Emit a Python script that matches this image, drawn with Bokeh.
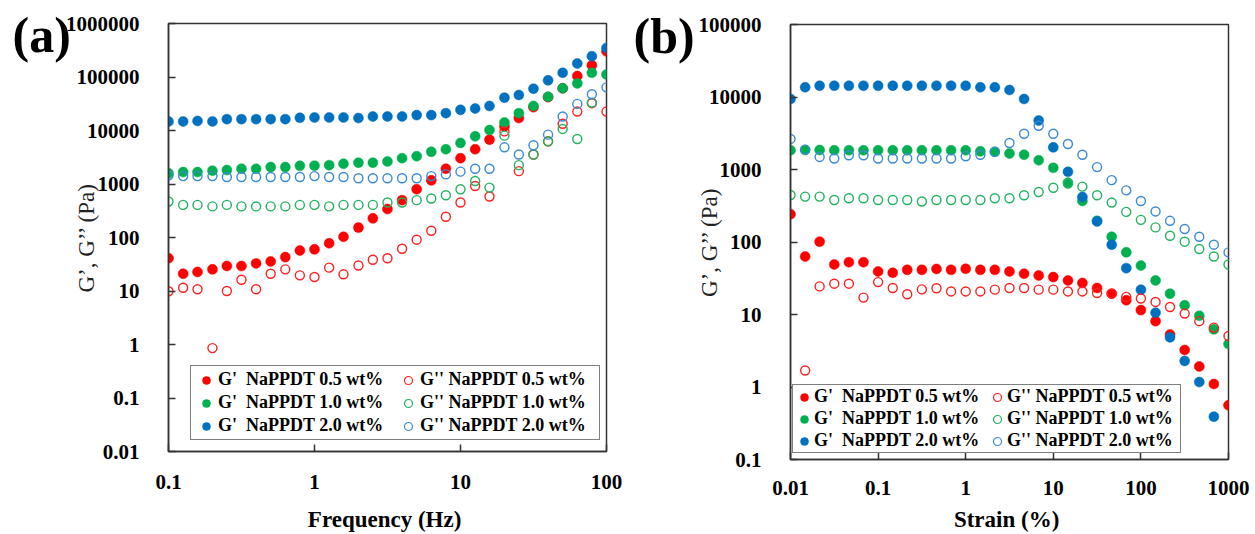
from bokeh.plotting import figure
from bokeh.models import (FixedTicker, CustomJSTickFormatter, Legend, LegendItem,
                          Range1d, Title)
from bokeh.layouts import row
from bokeh.embed import file_html
from bokeh.resources import INLINE

# ---------------- data: panel (a) frequency sweep ----------------
freq = [0.1, 0.126, 0.158, 0.2, 0.251, 0.316, 0.398, 0.501, 0.631, 0.794,
        1, 1.26, 1.58, 2, 2.51, 3.16, 3.98, 5.01, 6.31, 7.94,
        10, 12.6, 15.8, 20, 25.1, 31.6, 39.8, 50.1, 63.1, 79.4, 100]

a_gp_05 = [41, 21, 22.7, 25.4, 29.3, 29.3, 32.8, 35.7, 43, 57,
           60, 78, 103, 153, 228, 340, 499, 798, 1170, 1930,
           3040, 4460, 6750, 11900, 17060, 27300, 42000, 61400, 104000, 166000, 302000]
a_gpp_05 = [9.9, 11.5, 10.8, 0.857, 10, 16.2, 10.8, 21, 25.4, 19.6,
            18.3, 27.3, 20.5, 30, 38.4, 41, 61.5, 91, 134, 244,
            452, 919, 583, 9620, 1740, 3560, 6280, 13400, 22600, 32400, 22600]
a_gp_10 = [1580, 1670, 1670, 1770, 1820, 1930, 1930, 2070, 2070, 2190,
           2200, 2250, 2390, 2500, 2500, 2640, 3040, 3310, 3990, 4460,
           5860, 7780, 10200, 14100, 21100, 28800, 42900, 61400, 76000, 119700, 111600]
a_gpp_10 = [471, 407, 407, 381, 407, 381, 381, 381, 381, 407,
            407, 381, 407, 407, 407, 452, 452, 499, 535, 617,
            798, 1140, 857, 8020, 2250, 3560, 6280, 10700, 6950, 33200, float("nan")]
a_gp_20 = [14750, 14750, 15100, 14750, 16300, 16300, 16300, 16300, 16300, 17300,
           17500, 17500, 17500, 17060, 18270, 18270, 18270, 19400, 19400, 21100,
           24300, 25700, 28800, 41100, 46100, 60400, 86500, 119700, 178700, 244000, 348000]
a_gpp_20 = [1450, 1405, 1405, 1405, 1350, 1350, 1350, 1350, 1350, 1350,
            1405, 1350, 1350, 1280, 1280, 1280, 1280, 1280, 1405, 1510,
            1700, 1930, 1930, 4850, 3560, 5300, 8360, 18270, 31400, 47500, 64100]

# ---------------- data: panel (b) strain sweep ----------------
strain = [0.01, 0.0147, 0.0215, 0.0316, 0.0464, 0.0681, 0.1, 0.147, 0.215, 0.316,
          0.464, 0.681, 1, 1.47, 2.15, 3.16, 4.64, 6.81, 10, 14.7,
          21.5, 31.6, 46.4, 68.1, 100, 147, 215, 316, 464, 681, 1000]

b_gp_05 = [242, 63, 101, 48.9, 52.7, 52.7, 39.2, 37.6, 41.3, 41.3,
           42.5, 41.3, 42.7, 41.3, 41.3, 39.2, 36.5, 34.5, 32.8, 29.5,
           27.2, 23.2, 19.4, 15.7, 11.5, 8.1, 5.3, 3.24, 1.92, 1.1, 0.56]
b_gpp_05 = [float("nan"), 1.69, 24.4, 26.6, 26.6, 17.1, 28, 23.2, 19, 22.2,
            23, 20.8, 20.8, 20.8, 22, 23.2, 23.2, 22, 22, 20.8,
            20.8, 19.8, 19.4, 17.5, 16.6, 14.9, 12.7, 10.3, 8.1, 6.6, 5.05]
b_gp_10 = [1840, 1860, 1860, 1840, 1840, 1840, 1840, 1840, 1840, 1840,
           1840, 1840, 1840, 1780, 1760, 1660, 1600, 1340, 1055, 658,
           368, 196, 118, 72, 47.3, 29.5, 19.4, 13.4, 9.6, 6.24, 3.92]
b_gpp_10 = [445, 423, 423, 379, 401, 401, 379, 379, 379, 362,
            379, 379, 379, 379, 401, 401, 441, 489, 561, 640,
            580, 441, 350, 260, 202, 159, 122, 101, 80, 63, 48.9]
b_gp_20 = [9400, 13600, 14300, 14300, 14300, 14300, 14300, 14300, 14300, 14300,
           14300, 14300, 14300, 13600, 13600, 12500, 9400, 4730, 2020, 929,
           418, 192, 91.8, 43.6, 22, 10.6, 4.84, 2.29, 1.17, 0.39, float("nan")]
b_gpp_20 = [2640, 1880, 1490, 1420, 1570, 1570, 1420, 1420, 1420, 1420,
            1420, 1420, 1520, 1600, 1750, 2320, 3110, 4010, 3110, 2250,
            1600, 1080, 713, 515, 368, 264, 196, 151, 118, 91.8, 72]

labels_gp = ["G'  NaPPDT 0.5 wt%", "G'  NaPPDT 1.0 wt%", "G'  NaPPDT 2.0 wt%"]
labels_gpp = ["G'' NaPPDT 0.5 wt%", "G'' NaPPDT 1.0 wt%", "G'' NaPPDT 2.0 wt%"]

a_xticks = [0.1, 1, 10, 100]
a_yticks = [0.01, 0.1, 1, 10, 100, 1000, 10000, 100000, 1000000]
b_xticks = [0.01, 0.1, 1, 10, 100, 1000]
b_yticks = [0.1, 1, 10, 100, 1000, 10000, 100000]

FILL = ["#FF0000", "#00B050", "#0070C0"]
OPEN = ["#FF2020", "#22B35E", "#3A8AD6"]
FONT = "Liberation Serif"
AX = "#333333"
NAN = float("nan")

fmt_js = """
const e = Math.round(Math.log10(tick));
if (e >= 0) { return "1" + "0".repeat(e); }
return "0." + "0".repeat(-e - 1) + "1";
"""


def make_panel(x, series_fill, series_open, xticks, yticks, xlabel, tag,
               width, height, bl, br, bt, bb, xtick_standoff, ylab_standoff,
               xlab_standoff, leg_loc, leg_pad, leg_spacing, leg_lw, leg_gw,
               tag_offset):
    p = figure(width=width, height=height, x_axis_type="log", y_axis_type="log",
               x_range=Range1d(xticks[0], xticks[-1]),
               y_range=Range1d(yticks[0], yticks[-1]),
               output_backend="svg", toolbar_location=None,
               min_border_left=bl, min_border_right=br,
               min_border_top=bt, min_border_bottom=bb)
    p.frame_align = False
    p.xgrid.visible = False
    p.ygrid.visible = False
    p.outline_line_color = AX
    p.outline_line_width = 1.5
    p.background_fill_color = "white"
    p.border_fill_color = "white"

    p.xaxis.ticker = FixedTicker(ticks=xticks, minor_ticks=[])
    p.yaxis.ticker = FixedTicker(ticks=yticks, minor_ticks=[])
    for ax in (p.xaxis[0], p.yaxis[0]):
        ax.formatter = CustomJSTickFormatter(code=fmt_js)
        ax.major_tick_in = 7
        ax.major_tick_out = 0
        ax.minor_tick_line_color = None
        ax.axis_line_color = AX
        ax.axis_line_width = 1.5
        ax.major_tick_line_color = AX
        ax.major_tick_line_width = 1.5
        ax.major_label_text_font = FONT
        ax.major_label_text_font_style = "bold"
        ax.major_label_text_font_size = "21px"
        ax.major_label_text_color = "black"
    p.yaxis[0].major_label_standoff = 29
    p.xaxis[0].major_label_standoff = xtick_standoff

    p.xaxis[0].axis_label = xlabel
    p.xaxis[0].axis_label_text_font = FONT
    p.xaxis[0].axis_label_text_font_style = "bold"
    p.xaxis[0].axis_label_text_font_size = "23px"
    p.xaxis[0].axis_label_text_color = "black"
    p.xaxis[0].axis_label_standoff = xlab_standoff

    p.yaxis[0].axis_label = "G\u2019, G\u2019\u2019 (Pa)"
    p.yaxis[0].axis_label_text_font = FONT
    p.yaxis[0].axis_label_text_font_style = "normal"
    p.yaxis[0].axis_label_text_font_size = "23px"
    p.yaxis[0].axis_label_text_color = "#222222"
    p.yaxis[0].axis_label_standoff = ylab_standoff

    for ys, c in zip(series_fill, FILL):
        p.scatter(x, ys, marker="circle", size=10, fill_color=c,
                  line_color=c, line_width=0.5)
    for ys, c in zip(series_open, OPEN):
        p.scatter(x, ys, marker="circle", size=9, fill_color=None,
                  line_color=c, line_width=1.4)

    # smaller key markers for the legend (a single NaN point: never drawn in the plot)
    items = []
    for c, lab in zip(FILL, labels_gp):
        r = p.scatter(x=[NAN], y=[NAN], marker="circle", size=8, fill_color=c,
                      line_color=c, line_width=0.5)
        items.append(LegendItem(label=lab, renderers=[r]))
    for c, lab in zip(OPEN, labels_gpp):
        r = p.scatter(x=[NAN], y=[NAN], marker="circle", size=7, fill_color=None,
                      line_color=c, line_width=1.2)
        items.append(LegendItem(label=lab, renderers=[r]))
    leg = Legend(items=items, ncols=2, location=leg_loc,
                 border_line_color="black", border_line_width=1.5,
                 background_fill_color="white", background_fill_alpha=1.0,
                 label_text_font=FONT, label_text_font_style="bold",
                 label_text_font_size="18px", label_text_color="black",
                 glyph_width=leg_gw, glyph_height=20, label_height=20,
                 label_standoff=0, label_width=leg_lw, spacing=leg_spacing,
                 padding=leg_pad, margin=0)
    p.add_layout(leg)

    # panel tag, placed in the top border and pulled down beside the y axis
    p.add_layout(Title(text=tag, align="left", offset=tag_offset, standoff=-78,
                       text_font=FONT, text_font_style="bold",
                       text_font_size="50px", text_color="black"), "above")
    return p


pa = make_panel(freq, [a_gp_05, a_gp_10, a_gp_20], [a_gpp_05, a_gpp_10, a_gpp_20],
                a_xticks, a_yticks, "Frequency  (Hz)", "(a)",
                width=628, height=534, bl=168, br=22, bt=23, bb=80,
                xtick_standoff=23, ylab_standoff=-36, xlab_standoff=15,
                leg_loc=(22, 11), leg_pad=3, leg_spacing=2, leg_lw=176, leg_gw=24,
                tag_offset=-156)

pb = make_panel(strain, [b_gp_05, b_gp_10, b_gp_20], [b_gpp_05, b_gpp_10, b_gpp_20],
                b_xticks, b_yticks, "Strain  (%)", "(b)",
                width=627, height=534, bl=162, br=27, bt=24, bb=72,
                xtick_standoff=21, ylab_standoff=-26, xlab_standoff=9,
                leg_loc=(2, 6), leg_pad=1, leg_spacing=1, leg_lw=172, leg_gw=20,
                tag_offset=-157)

layout = row(pa, pb)
open("out.html", "w").write(file_html(layout, INLINE))
